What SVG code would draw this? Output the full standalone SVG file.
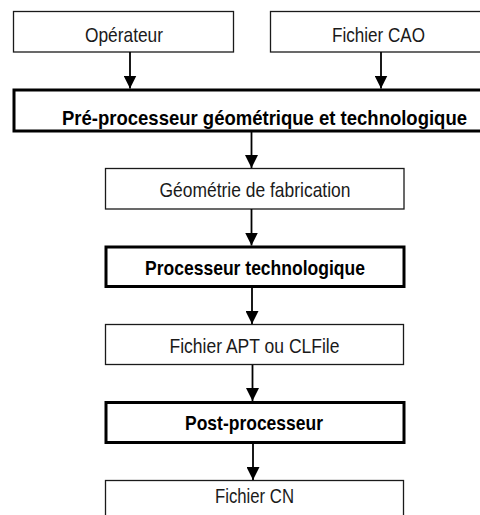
<svg xmlns="http://www.w3.org/2000/svg" width="480" height="515" viewBox="0 0 480 515">
<style>
.box{fill:#fff;stroke:#1a1a1a;stroke-width:1.3}
.bold{fill:#fff;stroke:#000;stroke-width:3}
text{font-family:"Liberation Sans","Arial",sans-serif;font-size:21px;fill:#1a1a1a;text-anchor:middle}
text.b{font-weight:bold;fill:#000}
.conn line{stroke:#000;stroke-width:1.8}
</style>
<defs>
<marker id="ah" markerUnits="userSpaceOnUse" markerWidth="14" markerHeight="13" refX="13" refY="6.5" orient="auto">
<path d="M0,0 L13,6.5 L0,13 Z" fill="#000"/>
</marker>
</defs>
<rect width="480" height="515" fill="#fff"/>
<g id="operateur"><rect class="box" x="13.5" y="11.5" width="220" height="40.5"/><text x="124" y="41.5" textLength="78" lengthAdjust="spacingAndGlyphs">Opérateur</text></g>
<g id="fichier-cao"><rect class="box" x="270.5" y="11.5" width="215" height="40.5"/><text x="378.5" y="41.5" textLength="93" lengthAdjust="spacingAndGlyphs">Fichier CAO</text></g>
<g id="preprocesseur"><rect class="bold" x="14" y="90" width="480" height="41"/><text class="b" x="264.5" y="125" textLength="405" lengthAdjust="spacingAndGlyphs">Pré-processeur géométrique et technologique</text></g>
<g id="geometrie"><rect class="box" x="105.5" y="168.5" width="298.5" height="40.5"/><text x="255" y="197" textLength="191" lengthAdjust="spacingAndGlyphs">Géométrie de fabrication</text></g>
<g id="processeur"><rect class="bold" x="106" y="247" width="298" height="39.5"/><text class="b" x="255" y="275" textLength="220" lengthAdjust="spacingAndGlyphs">Processeur technologique</text></g>
<g id="apt"><rect class="box" x="105.5" y="324.5" width="298" height="40"/><text x="254.5" y="353" textLength="170" lengthAdjust="spacingAndGlyphs">Fichier APT ou CLFile</text></g>
<g id="postprocesseur"><rect class="bold" x="106" y="402.5" width="298" height="40"/><text class="b" x="254" y="430" textLength="138" lengthAdjust="spacingAndGlyphs">Post-processeur</text></g>
<g id="fichier-cn"><rect class="box" x="105.5" y="480.5" width="298" height="45"/><text x="254.5" y="503" textLength="79" lengthAdjust="spacingAndGlyphs">Fichier CN</text></g>
<g class="conn" id="connectors">
<line x1="130" y1="52" x2="130" y2="88.5" marker-end="url(#ah)"/>
<line x1="381" y1="52" x2="381" y2="88.5" marker-end="url(#ah)"/>
<line x1="251.5" y1="132" x2="251.5" y2="168" marker-end="url(#ah)"/>
<line x1="251.5" y1="209" x2="251.5" y2="245.5" marker-end="url(#ah)"/>
<line x1="252" y1="288" x2="252" y2="324" marker-end="url(#ah)"/>
<line x1="252.5" y1="365" x2="252.5" y2="401" marker-end="url(#ah)"/>
<line x1="253" y1="444" x2="253" y2="480" marker-end="url(#ah)"/>
</g>
</svg>
